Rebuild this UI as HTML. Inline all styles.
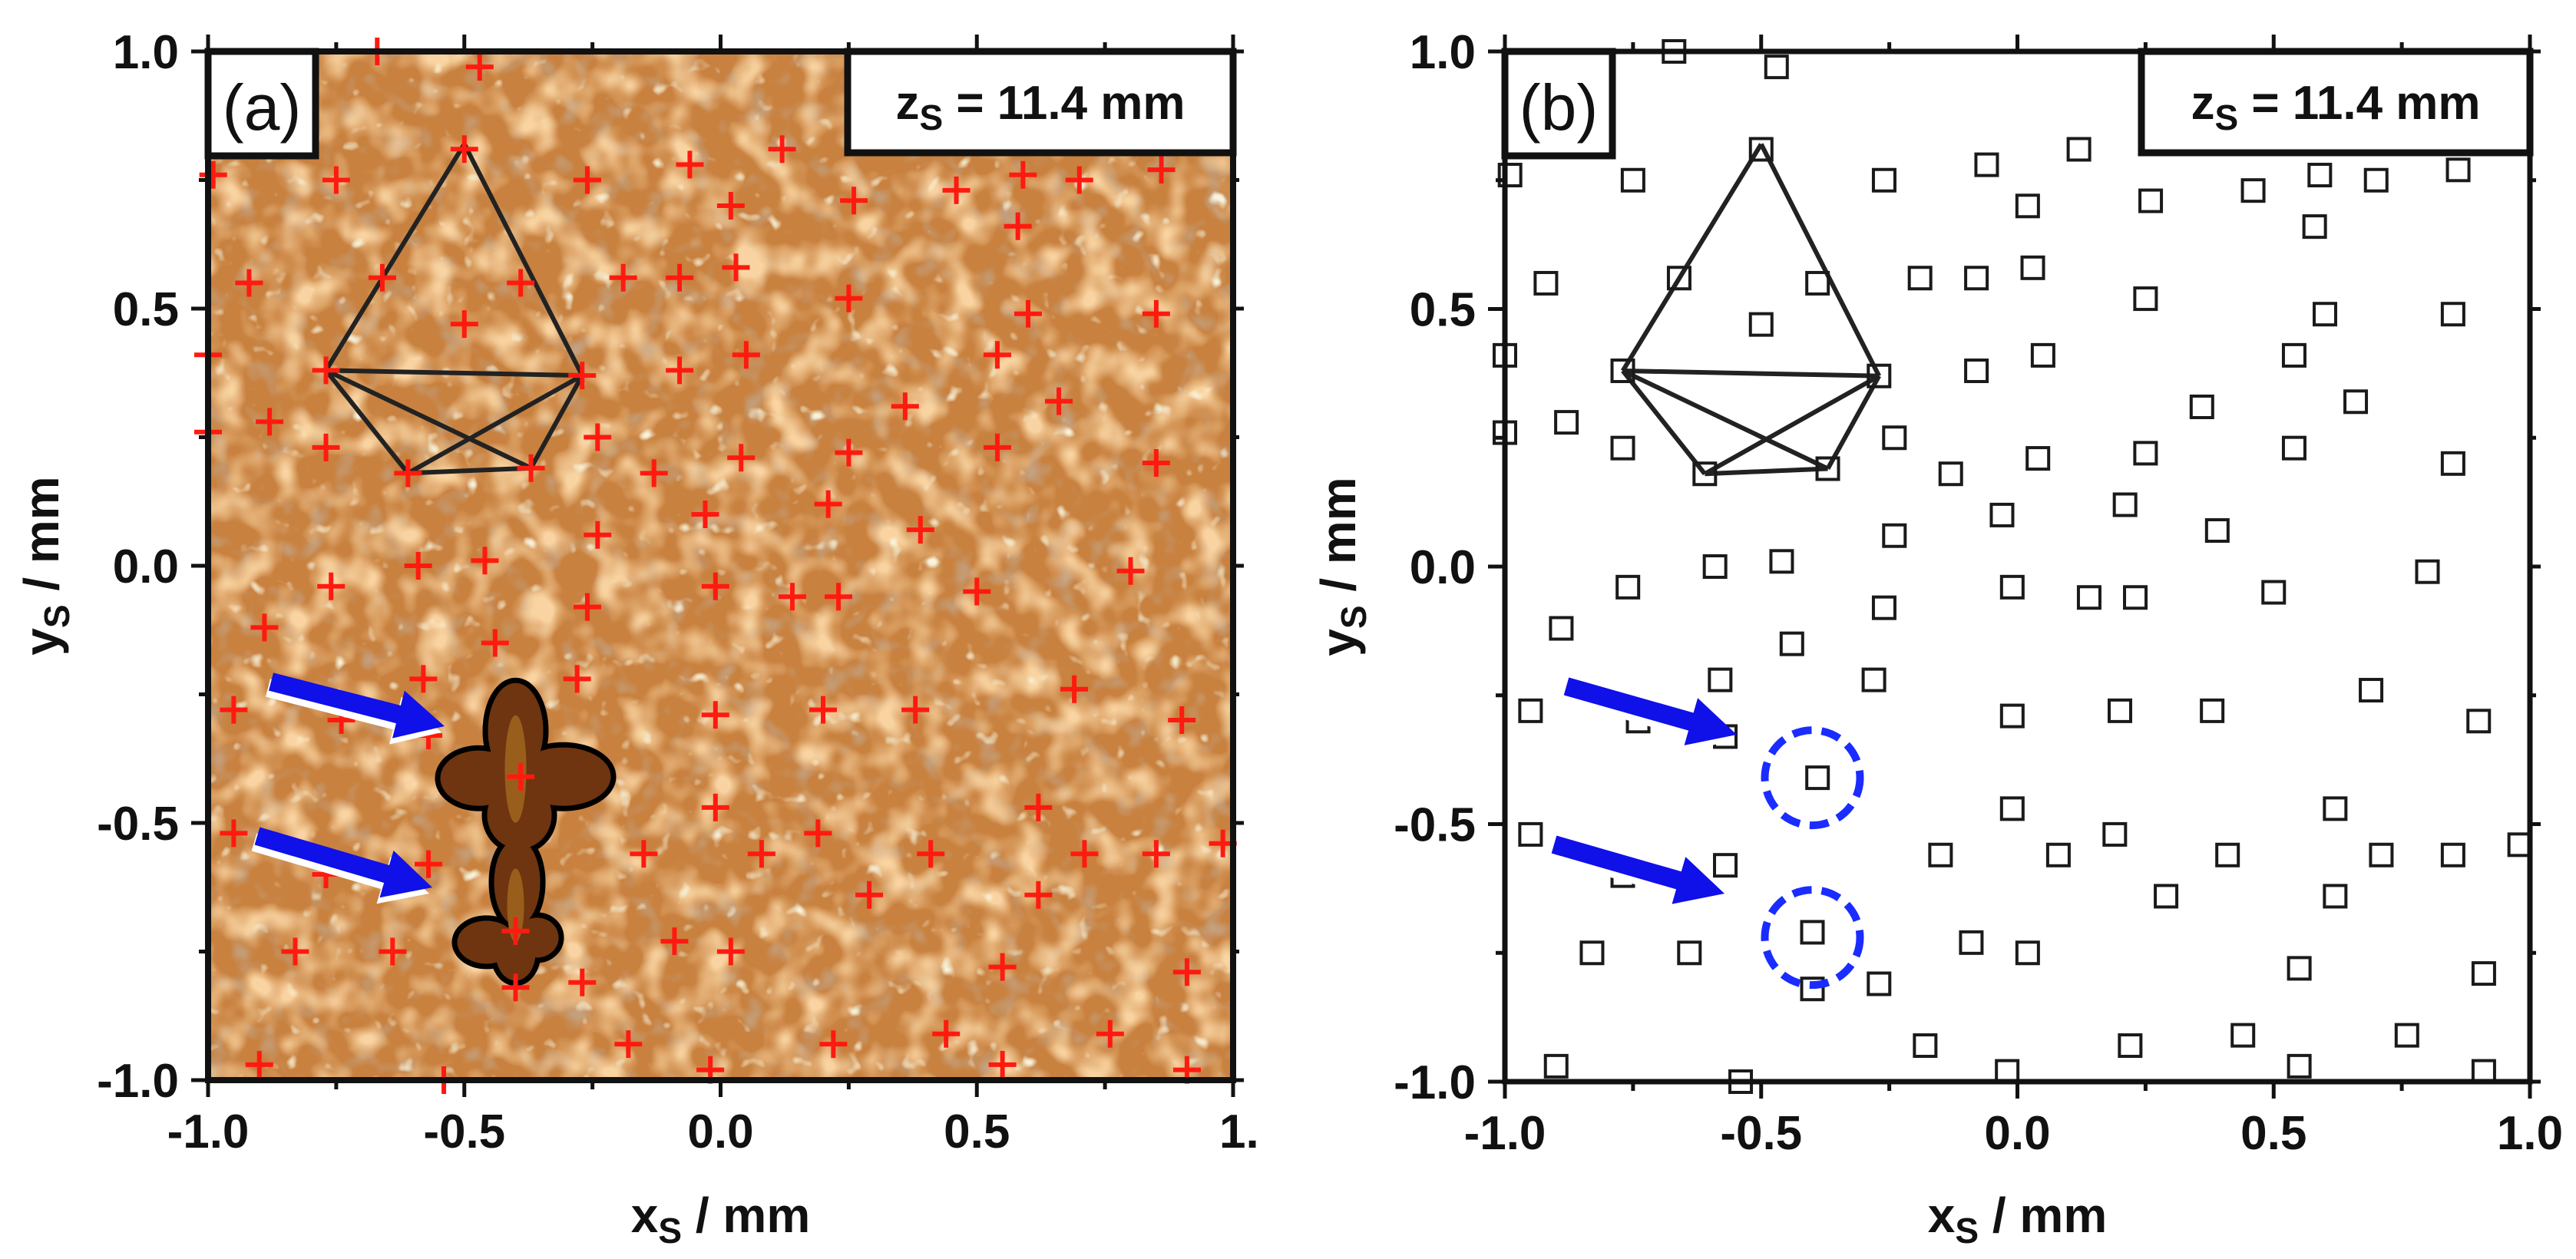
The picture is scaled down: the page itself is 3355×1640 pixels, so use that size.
<!DOCTYPE html>
<html><head><meta charset="utf-8"><style>
html,body{margin:0;padding:0;background:#fff;}
svg{display:block;}
text{font-family:"Liberation Sans",Arial,sans-serif;}
</style></head><body>
<svg id="fig" width="3355" height="1640" viewBox="0 0 3355 1640" xmlns="http://www.w3.org/2000/svg">
<defs>
<filter id="tex1" x="0" y="0" width="100%" height="100%">
<feTurbulence type="fractalNoise" baseFrequency="0.022" numOctaves="2" seed="3"/>
<feColorMatrix values="0 0 0 0 0.95  0 0 0 0 0.66  0 0 0 0 0.36  3 0 0 0 -1.35"/>
</filter>
<filter id="tex2" x="0" y="0" width="100%" height="100%">
<feTurbulence type="fractalNoise" baseFrequency="0.04" numOctaves="2" seed="11"/>
<feColorMatrix values="0 0 0 0 0.93  0 0 0 0 0.90  0 0 0 0 0.72  5 0 0 0 -3.4"/>
</filter>
<filter id="tex3" x="0" y="0" width="100%" height="100%">
<feTurbulence type="fractalNoise" baseFrequency="0.03" numOctaves="2" seed="7"/>
<feColorMatrix values="0 0 0 0 0.55  0 0 0 0 0.36  0 0 0 0 0.22  3 0 0 0 -1.6"/>
</filter>
<clipPath id="clipA"><rect x="271" y="67" width="1335" height="1340"/></clipPath>
</defs>
<g id="panelA"></g>
<g id="panelB"></g>
</svg>
<script>
const xs=[-0.67,-0.47,-0.99,-0.75,-0.50,-0.26,-0.06,0.12,0.02,0.26,0.46,0.59,0.70,0.86,0.58,-0.92,-0.66,-0.39,-0.50,-0.19,-0.08,0.03,0.25,0.60,0.85,-1.0,-0.77,-0.27,-0.08,0.05,0.54,0.36,0.66,-0.88,-1.0,-0.77,-0.61,-0.37,-0.24,-0.13,0.04,0.25,0.54,0.85,-0.03,0.21,0.39,-0.24,-0.76,-0.59,-0.46,-0.26,-0.01,0.14,0.23,0.50,0.80,-0.89,-0.44,-0.58,-0.28,-0.95,-0.74,-0.57,-0.01,0.20,0.38,0.69,0.90,-0.39,-0.01,0.62,-0.95,-0.57,-0.77,-0.15,0.08,0.19,0.41,0.71,0.85,0.98,0.29,0.62,-0.83,-0.64,-0.40,-0.40,-0.27,-0.09,0.02,0.55,0.91,-0.18,0.22,0.44,0.76,-0.90,-0.54,-0.02,0.55,0.91];
const ys=[1.0,0.97,0.76,0.75,0.81,0.75,0.78,0.81,0.70,0.71,0.73,0.76,0.75,0.77,0.66,0.55,0.56,0.55,0.47,0.56,0.56,0.58,0.52,0.49,0.49,0.41,0.38,0.37,0.38,0.41,0.41,0.31,0.32,0.28,0.26,0.23,0.18,0.19,0.25,0.18,0.21,0.22,0.23,0.20,0.10,0.12,0.07,0.06,-0.04,0.00,0.01,-0.08,-0.04,-0.06,-0.06,-0.05,-0.01,-0.12,-0.15,-0.22,-0.22,-0.28,-0.30,-0.33,-0.29,-0.28,-0.28,-0.24,-0.30,-0.41,-0.47,-0.47,-0.52,-0.58,-0.60,-0.56,-0.56,-0.52,-0.56,-0.56,-0.56,-0.54,-0.64,-0.64,-0.75,-0.75,-0.71,-0.82,-0.81,-0.73,-0.75,-0.78,-0.79,-0.93,-0.93,-0.91,-0.91,-0.97,-1.0,-0.98,-0.97,-0.98];
const highlightX=[-0.40,-0.40];
const highlightY=[-0.41,-0.72];
const polyX=[-0.50,-0.77,-0.27,-0.61,-0.37];
const polyY=[0.82,0.38,0.37,0.18,0.19];
const edges=[[0,1],[0,2],[1,2],[1,3],[1,4],[2,3],[2,4],[3,4]];
const tickVals=[-1.0,-0.5,0.0,0.5,1.0];
const tickLabelsA=["-1.0","-0.5","0.0","0.5","1."];
const tickLabelsB=["-1.0","-0.5","0.0","0.5","1.0"];
const minorVals=[-0.75,-0.25,0.25,0.75];

const NS="http://www.w3.org/2000/svg";
function mk(parent,tag,attrs,txt){const e=document.createElementNS(NS,tag);for(const k in attrs)e.setAttribute(k,attrs[k]);if(txt!==undefined)e.textContent=txt;parent.appendChild(e);return e;}

function makePanel(g,L,T,W,H,isA){
  const X=v=>L+(v+1)/2*W, Y=v=>T+(1-v)/2*H;
  if(isA){
    const bg=mk(g,'g',{'clip-path':'url(#clipA)'});
    
    
    mk(bg,'rect',{x:L,y:T,width:W,height:H,fill:'#c8813f'});
    mk(bg,'rect',{x:L,y:T,width:W,height:H,filter:'url(#tex3)'});
    mk(bg,'rect',{x:L,y:T,width:W,height:H,filter:'url(#tex1)'});
    mk(bg,'rect',{x:L,y:T,width:W,height:H,filter:'url(#tex2)'});
  }
  const pg=mk(g,'g',{});
  
  
  edges.forEach(e=>{mk(pg,'line',{x1:X(polyX[e[0]]),y1:Y(polyY[e[0]]),x2:X(polyX[e[1]]),y2:Y(polyY[e[1]]),stroke:'#222',"stroke-width":6});});
  if(isA){
    const dg=mk(g,'g',{});
    
    
    const cx1=X(highlightX[0]),cy1=Y(highlightY[0]),cx2=X(highlightX[1]),cy2=Y(highlightY[1]);
    const shapes=[[cx1,cy1-60,36,62],[cx1-48,cy1+2,50,36],[cx1+62,cy1,62,38],[cx1+5,cy1+50,42,44],
                  [cx2+2,cy2-70,30,56],[cx2-38,cy2+8,38,28],[cx2+28,cy2+2,28,26],[cx2,cy2+22,26,36]];
    shapes.forEach(s=>mk(dg,'ellipse',{cx:s[0],cy:s[1],rx:s[2],ry:s[3],fill:'#000',stroke:'#000','stroke-width':14}));
    shapes.forEach(s=>mk(dg,'ellipse',{cx:s[0],cy:s[1],rx:s[2],ry:s[3],fill:'#6e3510'}));
    mk(dg,'ellipse',{cx:cx1,cy:cy1-10,rx:14,ry:70,fill:'#9a5e1c'});
    mk(dg,'ellipse',{cx:cx2,cy:cy2-40,rx:11,ry:48,fill:'#9a5e1c'});
  }
  const mg=mk(g,'g',{});
  
  
  for(let i=0;i<xs.length;i++){
    const px=X(xs[i]),py=Y(ys[i]);
    if(isA){
      const hl=highlightX.some((hx,j)=>Math.abs(hx-xs[i])<0.005&&Math.abs(highlightY[j]-ys[i])<0.005);
      const c=hl?'#1a2cff':'#ff1a10';
      const p=mk(mg,'path',{d:`M${px-18} ${py}H${px+18}M${px} ${py-18}V${py+18}`,stroke:c,'stroke-width':6,fill:'none'});
      
      
    } else {
      const r=mk(mg,'rect',{x:px-14,y:py-14,width:28,height:28,fill:'none',stroke:'#1a1a1a','stroke-width':4});
      
      
    }
  }
  if(!isA){
    highlightX.forEach((hx,j)=>{
      const c=mk(g,'circle',{cx:X(hx),cy:Y(highlightY[j]),r:62,fill:'none',stroke:'#1a2cff','stroke-width':10,'stroke-dasharray':'25 13'});
      
      
    });
  }
  const arrows=isA?[[353,888,579,946],[335,1089,563,1156]]:[[2040,894,2262,957],[2024,1100,2246,1164]];
  arrows.forEach(a=>{
    const ag=mk(g,'g',{});
    
    
    const dx=a[2]-a[0],dy=a[3]-a[1],len=Math.hypot(dx,dy),ang=Math.atan2(dy,dx)*180/Math.PI;
    const d=`M0 -12 L${len-62} -12 L${len-62} -32 L${len} 0 L${len-62} 32 L${len-62} 12 L0 12 Z`;
    mk(ag,'path',{d,fill:'#fff',transform:`translate(${a[0]-4},${a[1]+8}) rotate(${ang})`});
    mk(ag,'path',{d,fill:'#1010e8',transform:`translate(${a[0]},${a[1]}) rotate(${ang})`});
  });
  const fr=mk(g,'rect',{x:L,y:T,width:W,height:H,fill:'none',stroke:'#111','stroke-width':isA?8:7});
  
  
  const tg=mk(g,'g',{stroke:'#111','stroke-width':5});
  
  
  tickVals.forEach(v=>{
    mk(tg,'line',{x1:X(v),y1:T+H,x2:X(v),y2:T+H+22});
    mk(tg,'line',{x1:X(v),y1:T,x2:X(v),y2:T-22});
    mk(tg,'line',{x1:L,y1:Y(v),x2:L-22,y2:Y(v)});
    mk(tg,'line',{x1:L+W,y1:Y(v),x2:L+W+14,y2:Y(v)});
  });
  minorVals.forEach(v=>{
    mk(tg,'line',{x1:X(v),y1:T+H,x2:X(v),y2:T+H+12});
    mk(tg,'line',{x1:X(v),y1:T,x2:X(v),y2:T-12});
    mk(tg,'line',{x1:L,y1:Y(v),x2:L-12,y2:Y(v)});
    mk(tg,'line',{x1:L+W,y1:Y(v),x2:L+W+8,y2:Y(v)});
  });
  const labs=isA?tickLabelsA:tickLabelsB;
  tickVals.forEach((v,i)=>{
    let tx=X(v),anchor='middle';
    if(isA&&i===4){tx=X(v)-18;anchor='start';}
    const t=mk(g,'text',{x:tx,y:T+H+88,'font-size':62,'font-weight':'bold','text-anchor':anchor,fill:'#111'},labs[i]);
    
    
    const t2=mk(g,'text',{x:L-38,y:Y(v)+22,'font-size':62,'font-weight':'bold','text-anchor':'end',fill:'#111'},tickLabelsB[i]);
    
    
  });
  const xt=mk(g,'text',{x:L+W/2,y:1605,'font-size':64,'font-weight':'bold','text-anchor':'middle',fill:'#111'});
  
  
  mk(xt,'tspan',{},'x');mk(xt,'tspan',{'font-size':46,dy:14},'S');mk(xt,'tspan',{dy:-14},' / mm');
  const yt=mk(g,'text',{x:0,y:0,'font-size':64,'font-weight':'bold','text-anchor':'middle',fill:'#111',transform:`translate(${L-195},${T+H/2}) rotate(-90)`});
  
  
  mk(yt,'tspan',{},'y');mk(yt,'tspan',{'font-size':46,dy:14},'S');mk(yt,'tspan',{dy:-14},' / mm');
  const lb=mk(g,'g',{});
  
  
  mk(lb,'rect',{x:L,y:T,width:140,height:136,fill:'#fff',stroke:'#111','stroke-width':9});
  mk(lb,'text',{x:L+70,y:T+102,'font-size':84,'text-anchor':'middle',fill:'#111'},isA?'(a)':'(b)');
  const zb=mk(g,'g',{});
  
  
  const bw=isA?502:506;
  mk(zb,'rect',{x:L+W-bw,y:T,width:bw,height:132,fill:'#fff',stroke:'#111','stroke-width':9});
  const zt=mk(zb,'text',{x:L+W-bw/2,y:T+88,'font-size':62,'font-weight':'bold','text-anchor':'middle',fill:'#111'});
  mk(zt,'tspan',{},'z');mk(zt,'tspan',{'font-size':46,dy:14},'S');mk(zt,'tspan',{dy:-14},' = 11.4 mm');
}
makePanel(document.getElementById('panelA'),271,67,1335,1340,true);
makePanel(document.getElementById('panelB'),1960,67,1335,1342,false);
</script>
</body></html>
